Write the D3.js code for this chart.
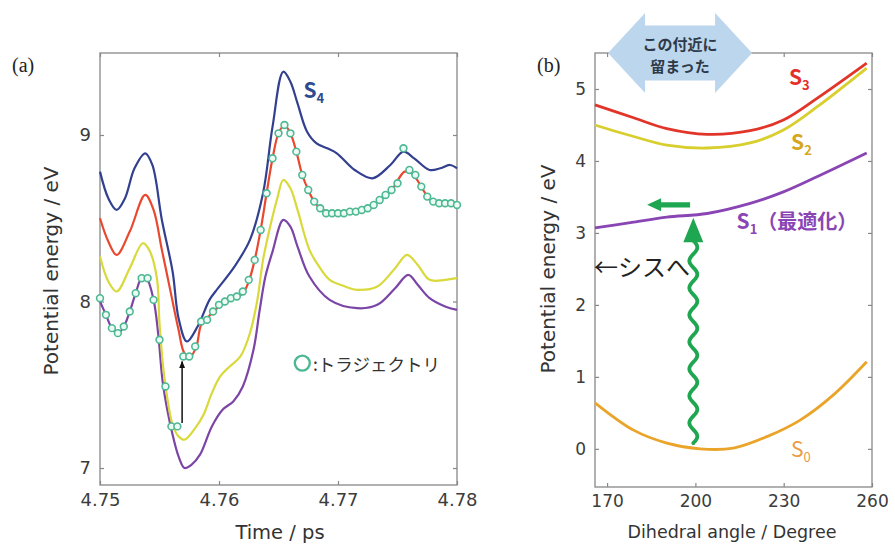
<!DOCTYPE html>
<html>
<head>
<meta charset="utf-8">
<title>Potential energy</title>
<script src="https://d3js.org/d3.v7.min.js"></script>
<style>
  body { margin: 0; background: #fff; }
  svg text { font-family: "DejaVu Sans", sans-serif; }
  .jp { font-family: "Noto Sans CJK JP", sans-serif; }
  .lab { font-family: "Liberation Serif", serif !important; }
</style>
</head>
<body>
<div id="chart"></div>
<script>
// (a) energies along the trajectory: [time / ps, energy / eV]
var s4Points = [[4.7500,8.78],[4.7507,8.62],[4.7514,8.55],[4.7521,8.62],[4.7529,8.80],[4.7538,8.89],[4.7544,8.82],
  [4.7552,8.49],[4.7561,8.18],[4.7566,7.90],[4.7573,7.76],[4.7582,7.85],[4.7592,8.01],[4.7597,8.06],[4.7613,8.21],
  [4.7626,8.37],[4.7637,8.65],[4.7645,9.05],[4.7654,9.38],[4.7660,9.32],[4.7666,9.19],[4.7674,9.02],[4.7682,8.95],
  [4.7691,8.92],[4.7699,8.89],[4.7714,8.79],[4.7729,8.74],[4.7744,8.82],[4.7755,8.90],[4.7764,8.86],[4.7777,8.79],
  [4.7786,8.80],[4.7794,8.82],[4.7800,8.80]];
var s3Points = [[4.7500,8.50],[4.7507,8.36],[4.7514,8.28],[4.7525,8.42],[4.7538,8.64],[4.7545,8.55],[4.7552,8.31],
  [4.7559,8.07],[4.7566,7.83],[4.7571,7.69],[4.7576,7.67],[4.7581,7.73],[4.7585,7.86],[4.7590,7.90],[4.7600,7.97],
  [4.7610,8.01],[4.7620,8.05],[4.7625,8.12],[4.7630,8.25],[4.7635,8.43],[4.7640,8.65],[4.7645,8.86],[4.7650,9.01],
  [4.7655,9.06],[4.7660,9.01],[4.7665,8.90],[4.7670,8.76],[4.7675,8.67],[4.7680,8.60],[4.7685,8.56],[4.7695,8.53],
  [4.7710,8.54],[4.7725,8.56],[4.7735,8.61],[4.7745,8.67],[4.7756,8.78],[4.7762,8.77],[4.7770,8.69],[4.7775,8.63],
  [4.7780,8.60],[4.7790,8.59],[4.7800,8.58]];
var s2Points = [[4.7500,8.27],[4.7507,8.12],[4.7514,8.06],[4.7525,8.20],[4.7536,8.35],[4.7542,8.30],[4.7548,8.13],
  [4.7550,7.87],[4.7554,7.55],[4.7561,7.26],[4.7566,7.19],[4.7571,7.17],[4.7580,7.24],[4.7587,7.32],[4.7594,7.45],
  [4.7601,7.55],[4.7609,7.61],[4.7618,7.67],[4.7626,7.81],[4.7632,8.00],[4.7637,8.25],[4.7643,8.45],[4.7649,8.62],
  [4.7654,8.73],[4.7660,8.68],[4.7666,8.55],[4.7676,8.31],[4.7685,8.20],[4.7693,8.13],[4.7706,8.09],[4.7716,8.07],
  [4.7733,8.09],[4.7748,8.20],[4.7758,8.28],[4.7767,8.22],[4.7777,8.13],[4.7790,8.13],[4.7800,8.14]];
var s1Points = [[4.7500,8.00],[4.7505,7.92],[4.7510,7.84],[4.7515,7.81],[4.7520,7.85],[4.7525,7.94],[4.7530,8.05],
  [4.7535,8.14],[4.7539,8.14],[4.7545,8.01],[4.7549,7.80],[4.7553,7.50],[4.7561,7.20],[4.7566,7.07],[4.7571,7.00],
  [4.7577,7.02],[4.7584,7.08],[4.7594,7.25],[4.7603,7.35],[4.7612,7.40],[4.7620,7.49],[4.7629,7.71],[4.7634,7.94],
  [4.7639,8.15],[4.7645,8.30],[4.7654,8.49],[4.7660,8.45],[4.7666,8.33],[4.7676,8.15],[4.7693,8.01],[4.7716,7.96],
  [4.7733,7.98],[4.7748,8.08],[4.7759,8.16],[4.7767,8.10],[4.7777,8.02],[4.7790,7.97],[4.7800,7.95]];

// trajectory samples (circles)
var trajTimes = [4.7500,4.7505,4.7510,4.7515,4.7520,4.7525,4.7530,4.7535,4.7540,4.7545,
  4.7550,4.7555,4.7560,4.7565,4.7570,4.7575,4.7580,4.7585,4.7590,4.7595,
  4.7600,4.7605,4.7610,4.7615,4.7620,4.7625,4.7630,4.7635,4.7640,4.7645,
  4.7650,4.7655,4.7660,4.7665,4.7670,4.7675,4.7680,4.7685,4.7690,4.7695,
  4.7700,4.7705,4.7710,4.7715,4.7720,4.7725,4.7730,4.7735,4.7740,4.7745,
  4.7750,4.7755,4.7760,4.7765,4.7770,4.7775,4.7780,4.7785,4.7790,4.7795,4.7800];
var trajEnergy = [8.02,7.92,7.84,7.81,7.85,7.94,8.05,8.14,8.14,8.01,
  7.77,7.49,7.25,7.25,7.67,7.67,7.73,7.88,7.89,7.94,
  7.98,8.00,8.02,8.03,8.06,8.13,8.25,8.43,8.65,8.86,
  9.01,9.06,9.01,8.90,8.76,8.67,8.60,8.56,8.53,8.53,
  8.53,8.53,8.54,8.54,8.55,8.56,8.58,8.61,8.64,8.67,
  8.71,8.92,8.79,8.76,8.69,8.63,8.60,8.59,8.59,8.59,8.58];
var hop = {t: 4.7569, from: 7.27, to: 7.64};

var aTicksX = [4.75, 4.76, 4.77, 4.78];
var aTicksY = [7, 8, 9];

// (b) scan along dihedral angle
var angles = [165.9, 179, 190.3, 204, 218.6, 229.9, 241.3, 258.2];
var bS3 = [4.78, 4.60, 4.45, 4.37, 4.42, 4.57, 4.87, 5.36];
var bS2 = [4.50, 4.34, 4.22, 4.18, 4.25, 4.43, 4.75, 5.29];
var bS1 = [3.07, 3.15, 3.22, 3.27, 3.41, 3.57, 3.78, 4.11];
var anglesS0 = [165.9, 179, 190.3, 201.6, 212.9, 224.3, 235.6, 246.9, 258.2];
var bS0 = [0.64, 0.26, 0.08, 0.00, 0.01, 0.17, 0.40, 0.75, 1.21];

var bTicksX = [170, 200, 230, 260];
var bTicksY = [0, 1, 2, 3, 4, 5];

var W = 895, H = 545;
var svg = d3.select("#chart").append("svg")
    .attr("width", W).attr("height", H)
    .style("background", "#fff");

svg.append("defs").append("marker")
    .attr("id", "hopHead")
    .attr("viewBox", "0 0 10 10")
    .attr("refX", 9).attr("refY", 5)
    .attr("markerWidth", 5).attr("markerHeight", 5)
    .attr("orient", "auto")
  .append("path")
    .attr("d", "M0,1L10,5L0,9Z")
    .attr("fill", "#111");

//scales
var xa = d3.scaleLinear().domain([4.75, 4.78]).range([100, 457]);
var ya = d3.scaleLinear().domain([6.898, 9.4925]).range([485, 53]);
var xb = d3.scaleLinear().domain([165.9, 260]).range([595, 872]);
var yb = d3.scaleLinear().domain([-0.53, 5.5]).range([487, 53]);

function drawFrame(x, y, xt, yt, xf, yf, fs) {
    var g = svg.append("g");
    var x0 = x.range()[0], x1 = x.range()[1], y0 = y.range()[1], y1 = y.range()[0];
    function tidy(s) {
        s.select(".domain").remove();
        s.selectAll(".tick line").attr("stroke", "#888").attr("stroke-width", 1.2);
        s.selectAll(".tick text").attr("fill", "#3c3c3c").style("font-size", fs + "px");
    }
    g.append("g").attr("transform", "translate(0," + y1 + ")")
        .call(d3.axisBottom(x).tickValues(xt).tickSizeInner(-4).tickSizeOuter(0).tickPadding(8).tickFormat(xf))
        .call(tidy);
    g.append("g").attr("transform", "translate(0," + y0 + ")")
        .call(d3.axisTop(x).tickValues(xt).tickSizeInner(-4).tickSizeOuter(0).tickFormat(""))
        .call(tidy);
    g.append("g").attr("transform", "translate(" + x0 + ",0)")
        .call(d3.axisLeft(y).tickValues(yt).tickSizeInner(-4).tickSizeOuter(0).tickPadding(9).tickFormat(yf))
        .call(tidy);
    g.append("g").attr("transform", "translate(" + x1 + ",0)")
        .call(d3.axisRight(y).tickValues(yt).tickSizeInner(-4).tickSizeOuter(0).tickFormat(""))
        .call(tidy);
    g.append("rect")
        .attr("x", x0).attr("y", y0)
        .attr("width", x1 - x0).attr("height", y1 - y0)
        .attr("fill", "none").attr("stroke", "#888").attr("stroke-width", 1.3);
}

drawFrame(xa, ya, aTicksX, aTicksY, d3.format(".2f"), d3.format("d"), 18);
drawFrame(xb, yb, bTicksX, bTicksY, d3.format("d"), d3.format("d"), 17);

// ---- panel (a)
var lineA = d3.line()
    .x(function(d) { return xa(d[0]); })
    .y(function(d) { return ya(d[1]); })
    .curve(d3.curveCatmullRom.alpha(0.5));

var aSeries = [
    {pts: s1Points, color: "#7b45a6"},
    {pts: s2Points, color: "#d9d93c"},
    {pts: s3Points, color: "#e8492e"},
    {pts: s4Points, color: "#33408f"}
];
svg.append("g").selectAll("path")
    .data(aSeries)
    .enter().append("path")
    .attr("d", function(d) { return lineA(d.pts); })
    .attr("fill", "none")
    .attr("stroke", function(d) { return d.color; })
    .attr("stroke-width", 2.2);

svg.append("line")
    .attr("x1", xa(hop.t)).attr("x2", xa(hop.t))
    .attr("y1", ya(hop.from)).attr("y2", ya(hop.to))
    .attr("stroke", "#111").attr("stroke-width", 1.5)
    .attr("marker-end", "url(#hopHead)");

svg.append("g").selectAll("circle")
    .data(trajTimes)
    .enter().append("circle")
    .attr("cx", function(d) { return xa(d); })
    .attr("cy", function(d, i) { return ya(trajEnergy[i]); })
    .attr("r", 3.4)
    .attr("fill", "#eefaf4")
    .attr("stroke", "#4db894")
    .attr("stroke-width", 1.6);

var s4lab = svg.append("text").attr("class", "jp")
    .attr("x", xa(4.7671)).attr("y", ya(9.22))
    .attr("fill", "#2f4b8f").style("font-weight", "bold").style("font-size", "21px");
s4lab.append("tspan").text("S");
s4lab.append("tspan").attr("dy", 5).style("font-size", "13px").text("4");

// legend
svg.append("circle")
    .attr("cx", xa(4.7670)).attr("cy", ya(7.63))
    .attr("r", 7.5)
    .attr("fill", "#fff").attr("stroke", "#4db894").attr("stroke-width", 2.4);
svg.append("text").attr("class", "jp")
    .attr("x", xa(4.7679)).attr("y", ya(7.63))
    .attr("dominant-baseline", "central")
    .attr("fill", "#333").style("font-size", "17.5px")
    .text(":トラジェクトリ");

// ---- panel (b)
var lineB = d3.line()
    .x(function(d) { return xb(d[0]); })
    .y(function(d) { return yb(d[1]); })
    .curve(d3.curveCatmullRom.alpha(0.5));

var bSeries = [
    {a: anglesS0, e: bS0, color: "#eba42a"},
    {a: angles, e: bS1, color: "#8a45b5"},
    {a: angles, e: bS2, color: "#d8cf2e"},
    {a: angles, e: bS3, color: "#e2352a"}
];
svg.append("g").selectAll("path")
    .data(bSeries)
    .enter().append("path")
    .attr("d", function(d) { return lineB(d.a.map(function(v, i) { return [v, d.e[i]]; })); })
    .attr("fill", "none")
    .attr("stroke", function(d) { return d.color; })
    .attr("stroke-width", 2.8);

// wavy green arrow (relaxation at 200 deg)
var wx = xb(199.3), wBot = yb(0.08), wTop = yb(2.9), tip = yb(3.21);
var wave = d3.range(wBot, wTop, -1).map(function(y) {
    return [wx + 4 * Math.sin((wBot - y) / 27 * 2 * Math.PI), y];
});
svg.append("path")
    .attr("d", d3.line().curve(d3.curveBasis)(wave))
    .attr("fill", "none").attr("stroke", "#1fa650").attr("stroke-width", 3.8)
    .attr("stroke-linecap", "round");
svg.append("path")
    .attr("d", "M" + wx + "," + tip + "L" + (wx + 10) + "," + (wTop + 2) + "L" + (wx - 10) + "," + (wTop + 2) + "Z")
    .attr("fill", "#1fa650");

// short green arrow along S1 towards cis
var hy = yb(3.39), hTip = xb(183.6), hTail = xb(198.2);
svg.append("path")
    .attr("d", "M" + hTip + "," + hy + "L" + (hTip + 14) + "," + (hy - 6.5) + "L" + (hTip + 14) + "," + (hy - 2.6) +
        "L" + hTail + "," + (hy - 2.6) + "L" + hTail + "," + (hy + 2.6) + "L" + (hTip + 14) + "," + (hy + 2.6) +
        "L" + (hTip + 14) + "," + (hy + 6.5) + "Z")
    .attr("fill", "#1fa650");

// double arrow box at the top
var cx = xb(194.8), cy = yb(5.5);
var half = 72, head = 37, hh = 40, bh = 27.5;
svg.append("path")
    .attr("d", "M" + (cx - half) + "," + cy +
        "L" + (cx - half + head) + "," + (cy - hh) + "L" + (cx - half + head) + "," + (cy - bh) +
        "L" + (cx + half - head) + "," + (cy - bh) + "L" + (cx + half - head) + "," + (cy - hh) +
        "L" + (cx + half) + "," + cy +
        "L" + (cx + half - head) + "," + (cy + hh) + "L" + (cx + half - head) + "," + (cy + bh) +
        "L" + (cx - half + head) + "," + (cy + bh) + "L" + (cx - half + head) + "," + (cy + hh) + "Z")
    .attr("fill", "#bcd6ee");
svg.append("text").attr("class", "jp")
    .attr("x", cx).attr("y", cy - 10)
    .attr("text-anchor", "middle").attr("dominant-baseline", "central")
    .attr("fill", "#2e3a48").style("font-size", "15px").style("font-weight", "bold")
    .text("この付近に");
svg.append("text").attr("class", "jp")
    .attr("x", cx).attr("y", cy + 12)
    .attr("text-anchor", "middle").attr("dominant-baseline", "central")
    .attr("fill", "#2e3a48").style("font-size", "15px").style("font-weight", "bold")
    .text("留まった");

// state labels in (b)
function stateLabel(x, y, sub, color, extra, weight) {
    var t = svg.append("text").attr("class", "jp")
        .attr("x", x).attr("y", y)
        .attr("fill", color).style("font-weight", weight).style("font-size", "21px");
    t.append("tspan").text("S");
    t.append("tspan").attr("dy", 5).style("font-size", "13px").text(sub);
    if (extra) t.append("tspan").attr("dy", -5).style("font-size", "20px").text(extra);
}
stateLabel(xb(231.8), yb(5.05), "3", "#e2302a", "", "bold");
stateLabel(xb(232.5), yb(4.15), "2", "#d4a71c", "", "bold");
stateLabel(xb(214), yb(3.05), "1", "#8a45b5", "（最適化）", "bold");
stateLabel(xb(232.5), yb(-0.12), "0", "#ec9a45", "", "normal");

svg.append("text").attr("class", "jp")
    .attr("x", xb(165.6)).attr("y", yb(2.55))
    .attr("dominant-baseline", "central")
    .attr("fill", "#222").style("font-size", "24px")
    .text("←シスへ");

// axis titles and panel letters
svg.append("text")
    .attr("x", 280).attr("y", 539)
    .attr("text-anchor", "middle").attr("fill", "#333").style("font-size", "19.5px")
    .text("Time / ps");
svg.append("text")
    .attr("x", 732).attr("y", 538)
    .attr("text-anchor", "middle").attr("fill", "#333").style("font-size", "17.5px")
    .text("Dihedral angle / Degree");
svg.append("text")
    .attr("transform", "translate(51,271) rotate(-90)")
    .attr("dy", "0.36em")
    .attr("text-anchor", "middle").attr("fill", "#333").style("font-size", "20px")
    .text("Potential energy / eV");
svg.append("text")
    .attr("transform", "translate(548,269) rotate(-90)")
    .attr("dy", "0.36em")
    .attr("text-anchor", "middle").attr("fill", "#333").style("font-size", "20px")
    .text("Potential energy / eV");
svg.append("text").attr("class", "lab")
    .attr("x", 12).attr("y", 72)
    .attr("fill", "#222").style("font-size", "20px")
    .text("(a)");
svg.append("text").attr("class", "lab")
    .attr("x", 537).attr("y", 72)
    .attr("fill", "#222").style("font-size", "20px")
    .text("(b)");
</script>
</body>
</html>
